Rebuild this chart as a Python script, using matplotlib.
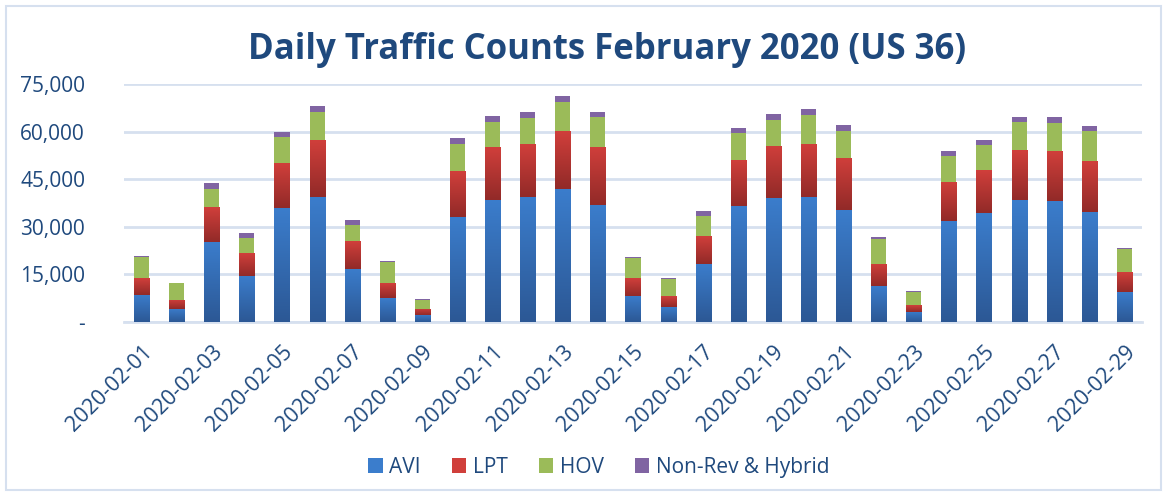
import numpy as np
import matplotlib.pyplot as plt
from matplotlib.patches import Rectangle
from matplotlib.colors import LinearSegmentedColormap
from matplotlib.ticker import FuncFormatter

plt.rcParams['font.family'] = ['Open Sans', 'DejaVu Sans']

dates = ["2020-02-%02d" % d for d in range(1, 30)]

avi = [8600, 4200, 25300, 14600, 36000, 39400, 16800, 7700, 2300,
       33200, 38500, 39400, 42000, 36900, 8300, 4800, 18400, 36600,
       39100, 39400, 35400, 11400, 3300, 31900, 34400, 38500, 38200,
       34700, 9500]
lpt = [5350, 2850, 11000, 7200, 14100, 17900, 8800, 4700, 1900,
       14400, 16700, 16700, 18200, 18300, 5650, 3450, 8800, 14500,
       16400, 16700, 16400, 6950, 2200, 12300, 13500, 15700, 15700,
       16050, 6300]
hov = [6600, 5150, 5700, 4700, 8200, 8800, 5050, 6600, 2850,
       8500, 7850, 8200, 9100, 9450, 6300, 5350, 6300, 8500,
       8200, 9100, 8500, 7850, 4100, 8200, 7850, 8800, 8800,
       9450, 7250]
nonrev = [300, 200, 1900, 1550, 1600, 1900, 1550, 300, 300,
          1900, 1900, 1900, 1900, 1550, 300, 300, 1550, 1550,
          1900, 1900, 1900, 600, 300, 1600, 1600, 1600, 1900,
          1550, 300]

series = [
    ("AVI", avi, "#3B7DCC", "#2C5895"),
    ("LPT", lpt, "#D03F3B", "#922A28"),
    ("HOV", hov, "#9BBB59", "#9BBB59"),
    ("Non-Rev & Hybrid", nonrev, "#8064A2", "#8064A2"),
]

text_col = "#1F497D"
grid_col = "#D6E0EF"

fig = plt.figure(figsize=(11.67, 4.96), dpi=100)
ax = fig.add_axes([124 / 1167, 174 / 496, 1018 / 1167, 238 / 496])

x = np.arange(len(dates))
width = 0.43
bottom = np.zeros(len(dates))
grad = np.linspace(1, 0, 64).reshape(-1, 1)
for name, vals, top_c, bot_c in series:
    vals = np.array(vals, dtype=float)
    bars = ax.bar(x, vals, width, bottom=bottom, color=top_c, label=name,
                  linewidth=0, zorder=3)
    if top_c != bot_c:
        # vertical gradient, lighter at the top of each segment
        cmap = LinearSegmentedColormap.from_list(name, [bot_c, top_c])
        for b in bars:
            x0, y0 = b.get_x(), b.get_y()
            im = ax.imshow(grad, extent=[x0, x0 + b.get_width(), y0, y0 + b.get_height()],
                           aspect='auto', cmap=cmap, vmin=0, vmax=1, zorder=3.5,
                           origin='upper')
            im.set_clip_path(b)
    bottom += vals

ax.set_xlim(-0.5, len(dates) - 0.5)
ax.set_ylim(0, 75000)
ax.set_yticks(np.arange(0, 75001, 15000))
ax.yaxis.set_major_formatter(FuncFormatter(lambda v, p: "-" if v == 0 else f"{int(v):,}"))
ax.grid(axis='y', color=grid_col, linewidth=2, zorder=0)
for s in ['top', 'right', 'left']:
    ax.spines[s].set_visible(False)
ax.spines['bottom'].set_color(grid_col)
ax.spines['bottom'].set_linewidth(2)
ax.tick_params(axis='both', length=0, labelcolor=text_col, labelsize=15)
ax.tick_params(axis='y', pad=28)

ax.set_xticks(x[::2])
ax.set_xticklabels(dates[::2], rotation=45, ha='right', va='top',
                   rotation_mode='anchor', fontsize=15.5)
ax.tick_params(axis='x', pad=14)

fig.suptitle("Daily Traffic Counts February 2020 (US 36)", x=0.52, y=0.935,
             fontsize=25, fontweight='bold', color=text_col)

handles, labels = ax.get_legend_handles_labels()
leg = fig.legend(handles, labels, loc='center', bbox_to_anchor=(0.513, 0.058),
                 ncol=4, frameon=False, fontsize=15, handlelength=0.7,
                 handleheight=0.7, columnspacing=1.5, handletextpad=0.3)
for t in leg.get_texts():
    t.set_color(text_col)

fig.patches.append(Rectangle((6 / 1167, 6 / 496), 1155 / 1167, 484 / 496,
                             transform=fig.transFigure, fill=False,
                             edgecolor=grid_col, linewidth=1.5))

fig.savefig("out.png", dpi=100)
